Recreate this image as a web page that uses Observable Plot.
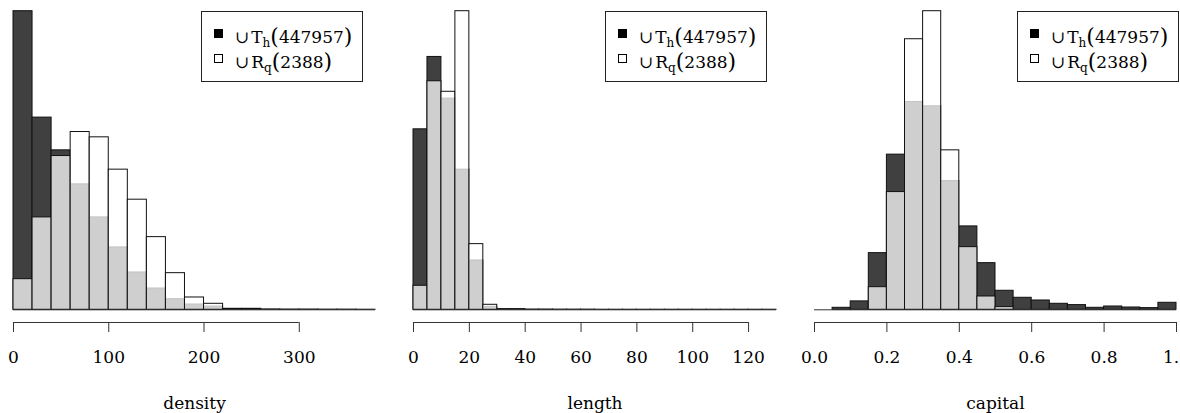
<!DOCTYPE html>
<html><head><meta charset="utf-8">
<script src="https://cdn.jsdelivr.net/npm/d3@7"></script>
<script src="https://cdn.jsdelivr.net/npm/@observablehq/plot@0.6"></script>
<style>
body{margin:0;background:#fff;}
#chart{position:relative;width:1180px;height:413px;overflow:hidden;font-family:"DejaVu Serif","Liberation Serif",serif;color:#000;}
.panel{position:absolute;top:0;height:413px;}
.legend{position:absolute;top:11px;width:160px;height:69px;border:1px solid #222;background:#fff;}
.row{position:absolute;left:12px;font-size:17px;line-height:19px;white-space:nowrap;color:#000;}
.sw{display:inline-block;width:7px;height:7px;border:1px solid #000;position:relative;top:-5px;margin-right:12px;}
.cup{margin-right:2px;font-size:17px;}
.row sub{font-size:12px;line-height:0;vertical-align:baseline;position:relative;top:0.35em;color:#000;}
.par{font-size:22px;line-height:0;position:relative;top:1px;}
</style></head><body><div id="chart"></div><script>
// ---- data (relative bin heights) ----
const densityBinWidth = 20;
const densityTh = [298.3, 192, 159.3, 125.3, 92.3, 62.3, 37.3, 21.3, 10.6, 5.3, 3.3, 1.0, 1.0, 0.4, 0.3, 0.3, 0.2, 0.2, 0.1];
const densityRq = [30.6, 92.3, 153.6, 177.6, 172.3, 140, 110, 72.6, 36.6, 12.3, 6, 0, 0, 0, 0, 0, 0, 0, 0];
const densityTicks = [0, 100, 200, 300];

const lengthBinWidth = 5;
const lengthTh = [180.3, 252.6, 211, 140, 49.3, 3, 0.7, 0.7, 0.3, 0.3, 0.2, 0.2, 0.2, 0.1, 0.1, 0.1, 0.1, 0.1, 0.1, 0.1, 0.1, 0.1, 0.1, 0.1, 0.1, 0.1];
const lengthRq = [24, 228.3, 217.8, 298.3, 65.6, 5, 0, 0, 0, 0, 0, 0, 0, 0, 0, 0, 0, 0, 0, 0, 0, 0, 0, 0, 0, 0];
const lengthTicks = [0, 20, 40, 60, 80, 100, 120];

const capitalBinWidth = 0.05;
const capitalTh = [0, 2, 8.4, 56.6, 155, 207.6, 203.3, 128.6, 83.3, 46.6, 19, 12, 9.3, 6, 4.7, 2, 3.3, 2.3, 1.7, 7];
const capitalRq = [0, 0, 0, 22.6, 117.6, 270.3, 298.3, 159.3, 62.6, 13.3, 2.7, 0, 0, 0, 0, 0, 0, 0, 0, 0];
const capitalTicks = [0, 0.2, 0.4, 0.6, 0.8, 1.0];

const legendSymbols = ["T", "R"];
const legendSubs = ["h", "q"];
const legendCounts = [447957, 2388];
const axisLabels = ["density", "length", "capital"];

// ---- layout ----
const FONT = "'DejaVu Serif', 'Liberation Serif', serif";
const panels = [
  {th: densityTh, rq: densityRq, w: densityBinWidth, domain: [0, 380], ticks: densityTicks, fmt: d3.format("d"), label: axisLabels[0], left: 0, width: 393, ml: 13, mr: 18, legendLeft: 201},
  {th: lengthTh, rq: lengthRq, w: lengthBinWidth, domain: [0, 130], ticks: lengthTicks, fmt: d3.format("d"), label: axisLabels[1], left: 393, width: 393, ml: 20, mr: 10, legendLeft: 212},
  {th: capitalTh, rq: capitalRq, w: capitalBinWidth, domain: [0, 1], ticks: capitalTicks, fmt: d3.format(".1f"), label: axisLabels[2], left: 786, width: 394, ml: 28, mr: 4, legendLeft: 231}
];

const chart = document.getElementById("chart");

for (const p of panels) {
  const rows = (vals) => vals.map((v, i) => ({x1: i * p.w, x2: (i + 1) * p.w, y: v}));
  const svg = Plot.plot({
    width: p.width, height: 413,
    marginTop: 10, marginBottom: 91, marginLeft: p.ml, marginRight: p.mr,
    x: {domain: p.domain},
    y: {domain: [0, 299], axis: null, insetBottom: 12.7},
    style: {fontFamily: FONT, fontSize: "17px", background: "transparent", overflow: "visible", color: "#000"},
    marks: [
      Plot.rect(rows(p.th), {x1: "x1", x2: "x2", y1: 0, y2: "y", fill: "#404040", stroke: "#111", strokeWidth: 1}),
      Plot.rect(rows(p.rq), {x1: "x1", x2: "x2", y1: 0, y2: "y", fill: "white", fillOpacity: 0.75, stroke: "#111", strokeWidth: 1}),
      Plot.ruleY([0], {stroke: "#333", strokeWidth: 1}),
      Plot.ruleY([0], {x1: p.ticks[0], x2: p.ticks[p.ticks.length - 1], dy: 12.7, stroke: "#333", strokeWidth: 1}),
      Plot.axisX({ticks: p.ticks, tickSize: 10, tickPadding: 18, tickFormat: p.fmt, label: null, stroke: "#333", fill: "#000", fontFamily: FONT, fontSize: 17}),
      Plot.text([p.label], {text: d => d, frameAnchor: "bottom", dy: 86, lineAnchor: "bottom", fontSize: 17, fontFamily: FONT, fill: "#000"})
    ]
  });
  const div = document.createElement("div");
  div.className = "panel";
  div.style.left = p.left + "px";
  div.style.width = p.width + "px";
  div.appendChild(svg);

  const lg = document.createElement("div");
  lg.className = "legend";
  lg.style.left = p.legendLeft + "px";
  legendSymbols.forEach((s, i) => {
    const r = document.createElement("div");
    r.className = "row";
    r.style.top = (16 + i * 25) + "px";
    r.innerHTML = `<span class="sw" style="background:${i === 0 ? "#000" : "#fff"}"></span><span class="cup">\u222A</span>${s}<sub>${legendSubs[i]}</sub><span class="par">(</span>${legendCounts[i]}<span class="par">)</span>`;
    lg.appendChild(r);
  });
  div.appendChild(lg);
  chart.appendChild(div);
}
</script></body></html>
